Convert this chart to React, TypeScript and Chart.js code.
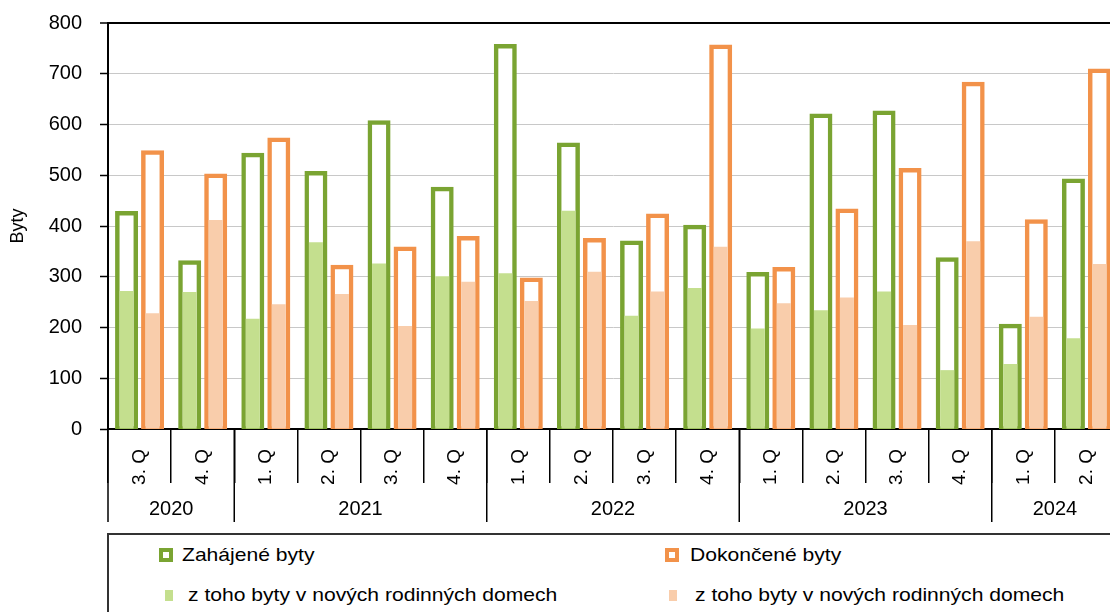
import React, { useEffect, useRef } from "react";
import { Chart, registerables } from "chart.js";

Chart.register(...registerables);

// ---- data ----
const quarterLabels = [
  "3. Q", "4. Q",
  "1. Q", "2. Q", "3. Q", "4. Q",
  "1. Q", "2. Q", "3. Q", "4. Q",
  "1. Q", "2. Q", "3. Q", "4. Q",
  "1. Q", "2. Q",
];
const yearLabels = ["2020", "2021", "2022", "2023", "2024"];
const yearSpans = [2, 4, 4, 4, 2];

const startedFlats = [425, 328, 540, 504, 604, 473, 754, 560, 367, 398, 305, 617, 623, 334, 203, 489];
const startedInFamilyHouses = [272, 270, 217, 368, 326, 301, 307, 430, 223, 278, 198, 234, 271, 116, 128, 179];
const completedFlats = [545, 499, 570, 319, 355, 376, 294, 372, 420, 753, 315, 430, 510, 680, 409, 706];
const completedInFamilyHouses = [228, 412, 246, 266, 203, 290, 252, 310, 271, 359, 248, 259, 205, 370, 221, 325];

const seriesNames = [
  "Zahájené byty",
  "Dokončené byty",
  "z toho byty v nových rodinných domech",
  "z toho byty v nových rodinných domech",
];
const yAxisTitle = "Byty";
const yMin = 0;
const yMax = 800;
const yStep = 100;

// ---- styles ----
const FONT = "'Liberation Sans', Arial, Helvetica, sans-serif";
const GREEN = "#7aa432";
const LIGHT_GREEN = "#c4df8e";
const ORANGE = "#f2924a";
const LIGHT_ORANGE = "#f9cdab";

const CAT_PCT = 0.8238;
const OUTLINE_PCT = 0.7115;
const FILL_PCT = 0.5385;

const yearAxisPlugin = {
  id: "yearAxis",
  afterDraw(chart: any) {
    const xs = chart.scales.x;
    const ctx = chart.ctx;
    const step = xs.getPixelForValue(1) - xs.getPixelForValue(0);
    const top = xs.top;
    ctx.save();
    ctx.strokeStyle = "#000";
    ctx.lineWidth = 1.5;
    ctx.fillStyle = "#000";
    ctx.font = `20px ${FONT}`;
    ctx.textAlign = "center";
    ctx.textBaseline = "middle";
    const sep = (px: number) => {
      ctx.beginPath();
      ctx.moveTo(px, top);
      ctx.lineTo(px, top + 93);
      ctx.stroke();
    };
    let idx = 0;
    yearLabels.forEach((label, i) => {
      const span = yearSpans[i];
      const left = xs.getPixelForValue(idx) - step / 2;
      const right = xs.getPixelForValue(idx + span - 1) + step / 2;
      sep(left);
      if (i === yearLabels.length - 1) sep(right);
      ctx.fillText(label, (left + right) / 2, top + 80);
      idx += span;
    });
    ctx.restore();
  },
};

function LegendMarker({ left, top, w, h, fill, border }: any) {
  return (
    <div
      style={{
        position: "absolute",
        left,
        top,
        width: w,
        height: h,
        boxSizing: "border-box",
        background: fill,
        border: border ? `4px solid ${border}` : "none",
      }}
    />
  );
}

function LegendText({ left, top, text }: any) {
  return (
    <div
      style={{
        position: "absolute",
        left,
        top,
        height: 22,
        lineHeight: "22px",
        fontFamily: FONT,
        fontSize: 19,
        color: "#000",
        whiteSpace: "nowrap",
        transform: "scaleX(1.11)",
        transformOrigin: "left center",
      }}
    >
      {text}
    </div>
  );
}

export default function App() {
  const canvasRef = useRef<HTMLCanvasElement | null>(null);

  useEffect(() => {
    if (!canvasRef.current) return;
    Chart.defaults.font.family = FONT;
    Chart.defaults.color = "#000";
    const chart = new Chart(canvasRef.current, {
      type: "bar",
      data: {
        labels: quarterLabels,
        datasets: [
          {
            label: seriesNames[2],
            data: startedInFamilyHouses,
            stack: "started",
            order: 0,
            backgroundColor: LIGHT_GREEN,
            borderWidth: 0,
            inflateAmount: 0,
            categoryPercentage: CAT_PCT,
            barPercentage: FILL_PCT,
          },
          {
            label: seriesNames[3],
            data: completedInFamilyHouses,
            stack: "completed",
            order: 0,
            backgroundColor: LIGHT_ORANGE,
            borderWidth: 0,
            inflateAmount: 0,
            categoryPercentage: CAT_PCT,
            barPercentage: FILL_PCT,
          },
          {
            label: seriesNames[0],
            data: startedFlats,
            stack: "started",
            order: 1,
            backgroundColor: "#ffffff",
            borderColor: GREEN,
            borderWidth: 4.5,
            borderSkipped: false,
            inflateAmount: 2.25,
            categoryPercentage: CAT_PCT,
            barPercentage: OUTLINE_PCT,
          },
          {
            label: seriesNames[1],
            data: completedFlats,
            stack: "completed",
            order: 1,
            backgroundColor: "#ffffff",
            borderColor: ORANGE,
            borderWidth: 4.5,
            borderSkipped: false,
            inflateAmount: 2.25,
            categoryPercentage: CAT_PCT,
            barPercentage: OUTLINE_PCT,
          },
        ] as any,
      },
      options: {
        responsive: false,
        animation: false,
        devicePixelRatio: 1,
        layout: { padding: { top: 23, right: 12, bottom: 0, left: 0 } },
        plugins: {
          legend: { display: false },
          tooltip: { enabled: false },
        },
        scales: {
          x: {
            stacked: true,
            z: 1,
            afterFit(scale: any) {
              scale.height = 104;
            },
            grid: {
              drawOnChartArea: false,
              drawTicks: true,
              tickLength: 54,
              color: "#000",
              lineWidth: 1.5,
              offset: true,
            },
            border: { color: "#000", width: 2 },
            ticks: {
              minRotation: 90,
              maxRotation: 90,
              autoSkip: false,
              padding: -34,
              color: "#000",
              font: { size: 19, family: FONT },
            },
          },
          y: {
            stacked: false,
            min: yMin,
            max: yMax,
            afterFit(scale: any) {
              scale.width = 108;
              scale.paddingTop = 0;
              scale.paddingBottom = 0;
            },
            ticks: {
              stepSize: yStep,
              padding: 18,
              color: "#000",
              font: { size: 20, family: FONT },
            },
            grid: {
              color: (c: any) => (c.tick && c.tick.value === yMax ? "#000" : "#c8c8c8"),
              lineWidth: (c: any) => (c.tick && c.tick.value === yMax ? 2 : 1),
              tickColor: "#000",
              tickWidth: 1.5,
              tickLength: 8,
              drawTicks: true,
            },
            border: { color: "#000", width: 2 },
            title: {
              display: true,
              text: yAxisTitle,
              color: "#000",
              font: { size: 18, family: FONT },
              padding: { top: 7, bottom: 0 },
            },
          },
        },
      } as any,
      plugins: [yearAxisPlugin],
    });
    return () => chart.destroy();
  }, []);

  return (
    <div
      style={{
        position: "fixed",
        left: 0,
        top: 0,
        width: 1110,
        height: 612,
        overflow: "hidden",
        background: "#fff",
      }}
    >
      <canvas
        ref={canvasRef}
        width={1130}
        height={533}
        style={{ position: "absolute", left: 0, top: 0, width: 1130, height: 533 }}
      />
      <div
        style={{
          position: "absolute",
          left: 107,
          top: 533,
          width: 1100,
          height: 120,
          borderTop: "2px solid #333",
          borderLeft: "2px solid #333",
          boxSizing: "border-box",
        }}
      />
      <LegendMarker left={159} top={548} w={14} h={14} fill="#fff" border={GREEN} />
      <LegendText left={182} top={544} text={seriesNames[0]} />
      <LegendMarker left={665} top={548} w={14} h={14} fill="#fff" border={ORANGE} />
      <LegendText left={690} top={544} text={seriesNames[1]} />
      <LegendMarker left={165} top={590} w={8} h={11} fill={LIGHT_GREEN} />
      <LegendText left={188} top={584} text={seriesNames[2]} />
      <LegendMarker left={669} top={590} w={8} h={11} fill={LIGHT_ORANGE} />
      <LegendText left={695} top={584} text={seriesNames[3]} />
    </div>
  );
}
